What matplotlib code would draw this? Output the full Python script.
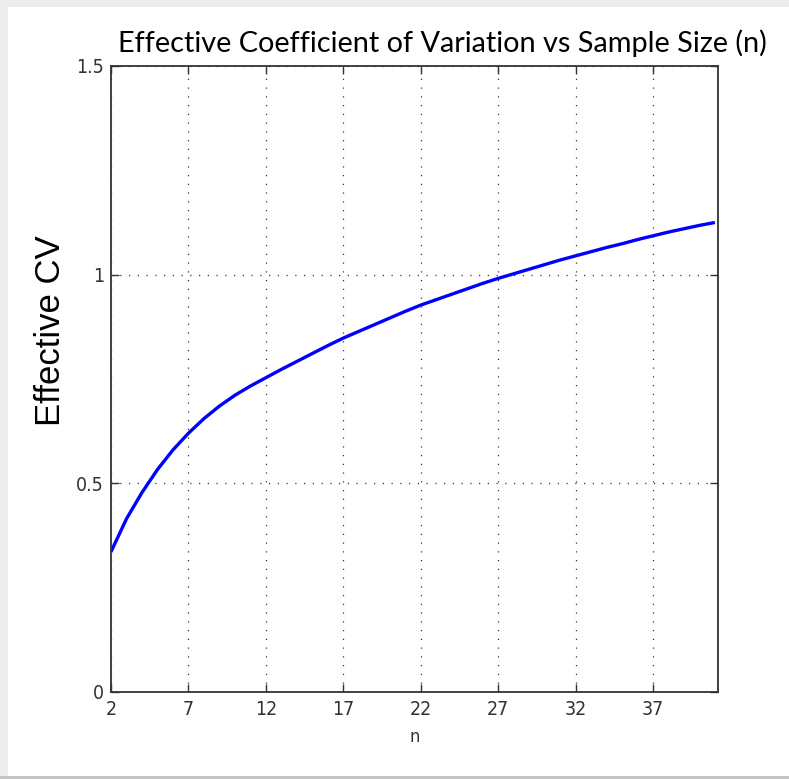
import matplotlib
matplotlib.use("Agg")
import matplotlib.pyplot as plt
from matplotlib import font_manager
from matplotlib.patches import Rectangle

#Data
n_values = [2, 3, 4, 5, 6, 7, 8, 9, 10, 11, 12, 13, 14, 15, 16, 17, 18, 19, 20, 21,
            22, 23, 24, 25, 26, 27, 28, 29, 30, 31, 32, 33, 34, 35, 36, 37, 38, 39, 40, 41]
cv_values = [0.336, 0.415, 0.478, 0.533, 0.580, 0.620, 0.655, 0.685, 0.711, 0.733,
             0.753, 0.773, 0.792, 0.811, 0.830, 0.848, 0.864, 0.880, 0.896, 0.912,
             0.927, 0.940, 0.953, 0.966, 0.979, 0.991, 1.002, 1.013, 1.024, 1.035,
             1.045, 1.055, 1.065, 1.074, 1.084, 1.093, 1.102, 1.110, 1.118, 1.125]
x_ticks = [2, 7, 12, 17, 22, 27, 32, 37]
y_ticks = [0, 0.5, 1, 1.5]
y_tick_labels = ["0", "0.5", "1", "1.5"]


#Pick a narrow font for the MATLAB-ish tick labels if one is there
def narrow_font():
    for fam, stretch in [("Liberation Sans Narrow", "normal"), ("DejaVu Sans", "condensed")]:
        try:
            path = font_manager.findfont(font_manager.FontProperties(family=fam, stretch=stretch),
                                         fallback_to_default=False)
        except ValueError:
            continue
        if "Narrow" in path or "Condensed" in path:
            return font_manager.FontProperties(fname=path)
    return font_manager.FontProperties(family="Liberation Sans")


tick_fp = narrow_font()

#Figure with grey slide border
fig = plt.figure(figsize=(7.89, 7.79), dpi=100)
fig.patch.set_facecolor("#ececec")
fig.patches.append(Rectangle((8/789, 3/779), 1 - 8/789, 769/779, transform=fig.transFigure,
                             facecolor="white", edgecolor="none", zorder=-1))
fig.patches.append(Rectangle((0, 0), 1, 3/779, transform=fig.transFigure,
                             facecolor="#c4c4c4", edgecolor="none", zorder=-1))

ax = fig.add_axes([0.1407, 0.1117, 0.7693, 0.8036])
ax.plot(n_values, cv_values, color=(0, 0, 1), linewidth=2.4, solid_capstyle="butt")

ax.set_xlim(2, 41.2)
ax.set_ylim(0, 1.5)
ax.set_xticks(x_ticks)
ax.set_yticks(y_ticks)
ax.set_yticklabels(y_tick_labels)
for lbl in ax.get_xticklabels() + ax.get_yticklabels():
    lbl.set_fontproperties(tick_fp)
    lbl.set_fontsize(14)
    lbl.set_color("#333333")

ax.tick_params(direction="in", length=6, width=1, color="#333333",
               top=True, right=True)
ax.tick_params(axis="x", pad=6)
ax.tick_params(axis="y", pad=5)
ax.grid(True, color="#333333", linestyle=(0, (1, 6)), linewidth=0.9)
for sp in ax.spines.values():
    sp.set_color("#333333")
    sp.set_linewidth(1.3)

xl = ax.set_xlabel("n", color="#333333", labelpad=6)
xl.set_fontproperties(tick_fp)
xl.set_fontsize(13)

#Title and y label in slide font
fig.text(0.561, 0.945, "Effective Coefficient of Variation vs Sample Size (n)",
         ha="center", va="center", fontsize=20.8, family=["Lato", "DejaVu Sans"])
fig.text(0.064, 0.575, "Effective CV", rotation=90, ha="center", va="center",
         fontsize=25, family=["Liberation Sans", "DejaVu Sans"])

fig.savefig("out.png", dpi=100, facecolor=fig.get_facecolor())
